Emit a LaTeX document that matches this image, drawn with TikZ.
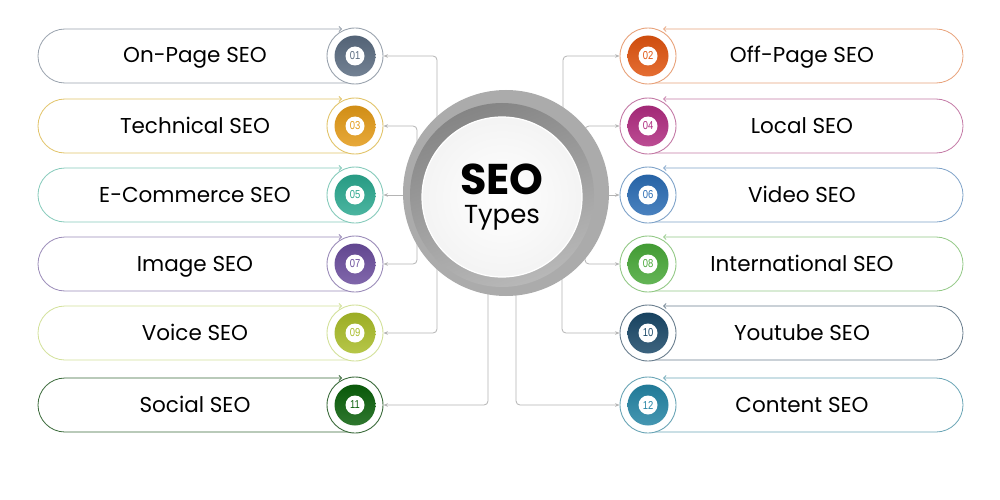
\documentclass[tikz,border=0pt]{standalone}
\usepackage{fontspec}
\setmainfont{Poppins}
\newfontfamily\numfont[FakeStretch=0.82]{Liberation Sans}
\usetikzlibrary{arrows.meta,shadings}
\definecolor{d01}{HTML}{5A6B80}\definecolor{l01}{HTML}{9AA3AE}
\definecolor{d02}{HTML}{E0540F}\definecolor{l02}{HTML}{E8A27A}
\definecolor{d03}{HTML}{E39A17}\definecolor{l03}{HTML}{E2C46A}
\definecolor{d04}{HTML}{B02C80}\definecolor{l04}{HTML}{C47AA6}
\definecolor{d05}{HTML}{2BA88F}\definecolor{l05}{HTML}{86CBBB}
\definecolor{d06}{HTML}{2A6CB4}\definecolor{l06}{HTML}{7FA3C9}
\definecolor{d07}{HTML}{6A4C9C}\definecolor{l07}{HTML}{9B8CB9}
\definecolor{d08}{HTML}{48A838}\definecolor{l08}{HTML}{93C986}
\definecolor{d09}{HTML}{A9BC28}\definecolor{l09}{HTML}{D3E19A}
\definecolor{d10}{HTML}{1A4868}\definecolor{l10}{HTML}{6A7E8E}
\definecolor{d11}{HTML}{0A600A}\definecolor{l11}{HTML}{3B6B3B}
\definecolor{d12}{HTML}{2484A4}\definecolor{l12}{HTML}{6AA5B6}
\definecolor{ringout}{HTML}{ABABAB}
\definecolor{ringdark}{HTML}{858585}
\definecolor{connc}{HTML}{B4B4B4}
\newcommand\pilltxt{\fontsize{21.5}{25}\selectfont}
% #1 id, #2 y, #3 text
\newcommand\Lrow[3]{%
  \draw[pill=l#1, -{Straight Barb[length=2.5pt,width=5pt]}] (350,#2+27) -- (38,#2+27) -- (38,#2-27) -- (342,#2-27);
  \node[numring=l#1] (n#1) at (355,#2) {};
  \node[numdisc=d#1] at (n#1.center) {};
  \node[numlbl=d#1] at (n#1.center) {#1};
  \node[pilltext, anchor=base] (t#1) at (195,#2+7) {#3};
}
\newcommand\Rrow[3]{%
  \draw[pill=l#1, -{Straight Barb[length=2.5pt,width=5pt]}] (643,#2+27) -- (963,#2+27) -- (963,#2-27) -- (663,#2-27);
  \node[numring=l#1] (n#1) at (648,#2) {};
  \node[numdisc=d#1] at (n#1.center) {};
  \node[numlbl=d#1] at (n#1.center) {#1};
  \node[pilltext, anchor=base] (t#1) at (802,#2+7) {#3};
}
\begin{document}
\begin{tikzpicture}[x=1pt,y=-1pt,
  pill/.style={draw=#1, line width=0.8pt, rounded corners=27pt},
  numring/.style={circle, draw=#1, fill=white, line width=0.9pt, minimum size=56pt, inner sep=0pt},
  numdisc/.style={circle, minimum size=41pt, inner sep=0pt, top color=#1!92!black, bottom color=#1!85!white, draw=none},
  numlbl/.style={circle, fill=white, minimum size=19pt, inner sep=0pt, text=#1, font=\numfont\fontsize{11.5}{11.5}\selectfont},
  pilltext/.style={font=\pilltxt, text=black, inner sep=0pt},
  conn/.style={draw=connc, line width=0.8pt, rounded corners=4pt, -{Stealth[length=4.5pt,width=3.5pt]}},
]
\useasboundingbox (0,0) rectangle (1000,500);
\fill[white] (0,0) rectangle (1000,500);

% hidden starting points of connectors (behind the centre)
\coordinate (s01) at (437,160);
\coordinate (s02) at (563,160);
\coordinate (s03) at (417,160);
\coordinate (s04) at (585,160);
\coordinate (s05) at (450,195);
\coordinate (s06) at (560,195);
\coordinate (s07) at (417,230);
\coordinate (s08) at (585,230);
\coordinate (s09) at (437,250);
\coordinate (s10) at (562,250);
\coordinate (s11) at (488,250);
\coordinate (s12) at (516,250);

% rows
\Lrow{01}{56}{On-Page SEO}
\Lrow{03}{126}{Technical SEO}
\Lrow{05}{195}{E-Commerce SEO}
\Lrow{07}{264}{Image SEO}
\Lrow{09}{333}{Voice SEO}
\Lrow{11}{405}{Social SEO}
\Rrow{02}{56}{Off-Page SEO}
\Rrow{04}{126}{Local SEO}
\Rrow{06}{195}{Video SEO}
\Rrow{08}{264}{International SEO}
\Rrow{10}{333}{Youtube SEO}
\Rrow{12}{405}{Content SEO}

% connectors
\draw[conn] (s01) |- (n01);
\draw[conn] (s02) |- (n02);
\draw[conn] (s03) |- (n03);
\draw[conn] (s04) |- (n04);
\draw[conn] (s05) -- (n05);
\draw[conn] (s06) -- (n06);
\draw[conn] (s07) |- (n07);
\draw[conn] (s08) |- (n08);
\draw[conn] (s09) |- (n09);
\draw[conn] (s10) |- (n10);
\draw[conn] (s11) |- (n11);
\draw[conn] (s12) |- (n12);

% centre
\node[circle, fill=ringout, minimum size=206pt, inner sep=0pt] (c) at (506,193) {};
\shade[left color=ringdark, right color=ringout!85!white, shading angle=20] (502,195) circle (92pt);
\shade[inner color=white, outer color=gray!9] (502,197) circle (80pt);
\draw[white, line width=1.2pt] (502,197) circle (80pt);
\node[align=center, inner sep=0pt, font=\fontsize{26}{29}\selectfont] (title) at (502,197)
  {{\bfseries\fontsize{43}{29}\selectfont SEO}\\Types};
\end{tikzpicture}
\end{document}
